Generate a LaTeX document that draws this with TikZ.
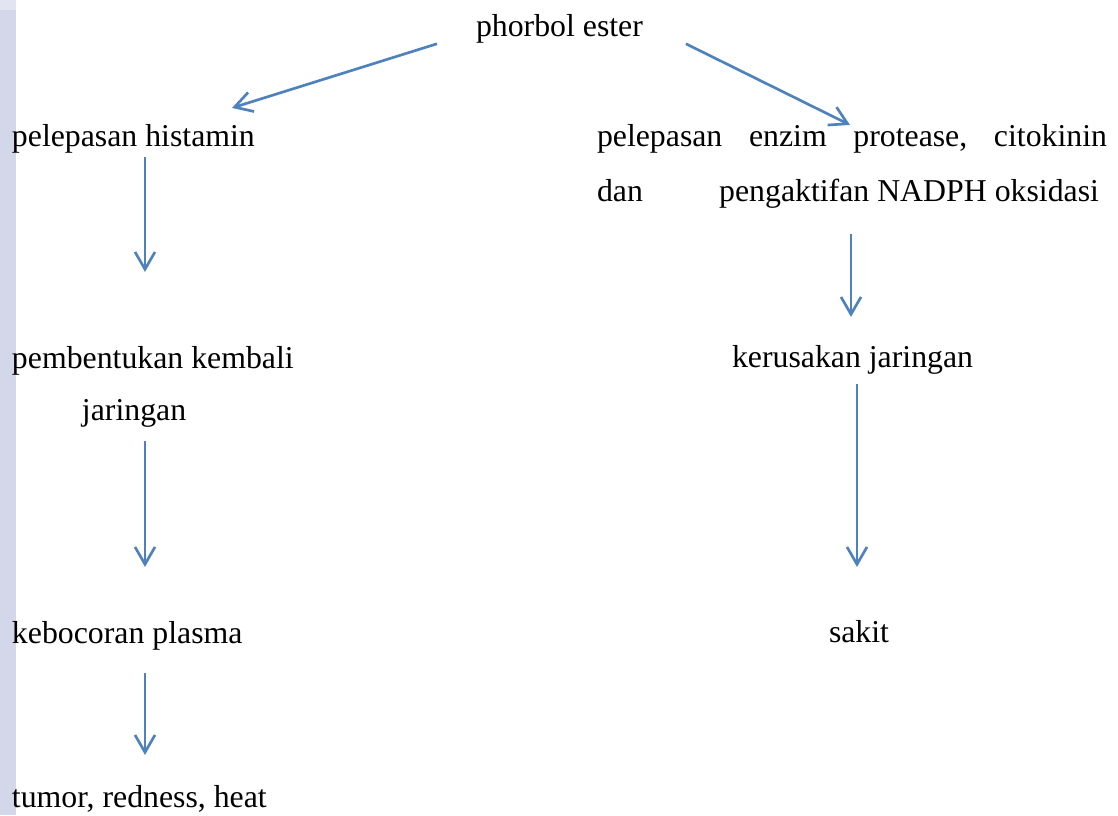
\documentclass[tikz,border=0pt]{standalone}
\usepackage{fontspec}
\setmainfont{Liberation Serif}
\usetikzlibrary{arrows.meta}
\newdimen\pxu \pxu=0.75pt
\definecolor{arrblue}{RGB}{79,129,189}
\definecolor{bandcol}{RGB}{212,214,234}
\tikzset{
  lbl/.style={anchor=base west, inner sep=0pt, outer sep=0pt, font=\fontsize{23.85}{28}\selectfont},
  arr/.style={draw=arrblue, line width=2pt, -{Straight Barb[length=13pt,width=15pt,line width=2pt]}}
}
\begin{document}
\begin{tikzpicture}[x=0.75pt,y=-0.75pt]
\useasboundingbox (0,0) rectangle (1118,815);
\fill[bandcol] (0,0) rectangle (16,815);
\fill[white,opacity=0.35] (0,0) rectangle (16,10);

\node[lbl] (pe) at (476,36) {phorbol ester};
\node[lbl] (ph) at (12,146) {pelepasan histamin};
\node[lbl] (enz) at (597,146) {\vtop{\baselineskip=55\pxu\lineskiplimit=-100pt
  \hbox to 510\pxu{pelepasan\hfill enzim\hfill protease,\hfill citokinin}
  \hbox to 502\pxu{dan\hfill pengaktifan NADPH oksidasi}}};
\node[lbl] (pk) at (12,368) {\vtop{\baselineskip=52\pxu\lineskiplimit=-100pt
  \hbox{pembentukan kembali}
  \hbox{\hskip 70\pxu jaringan}}};
\node[lbl] (kp) at (12,643) {kebocoran plasma};
\node[lbl] (tr) at (12,807) {tumor, redness, heat};
\node[lbl] (kj) at (732,367) {kerusakan jaringan};
\node[lbl] (sk) at (829,642) {sakit};

\draw[arr] ([shift={(-39,1)}]pe.south west) -- ([shift={(220,-16)}]ph.north west);
\draw[arr] ([shift={(43,1)}]pe.south east) -- ([shift={(253,1)}]enz.north west);

\draw[arr] ([shift={(133,4)}]ph.south west) -- ([shift={(133,-74)}]pk.north west);
\draw[arr] ([shift={(133,14)}]pk.south west) -- ([shift={(133,-54)}]kp.north west);
\draw[arr] ([shift={(133,23)}]kp.south west) -- ([shift={(133,-30)}]tr.north west);

\draw[arr] ([shift={(254,26)}]enz.south west) -- ([shift={(119,-28)}]kj.north west);
\draw[arr] ([shift={(125,10)}]kj.south west) -- ([shift={(28,-53)}]sk.north west);
\end{tikzpicture}
\end{document}
